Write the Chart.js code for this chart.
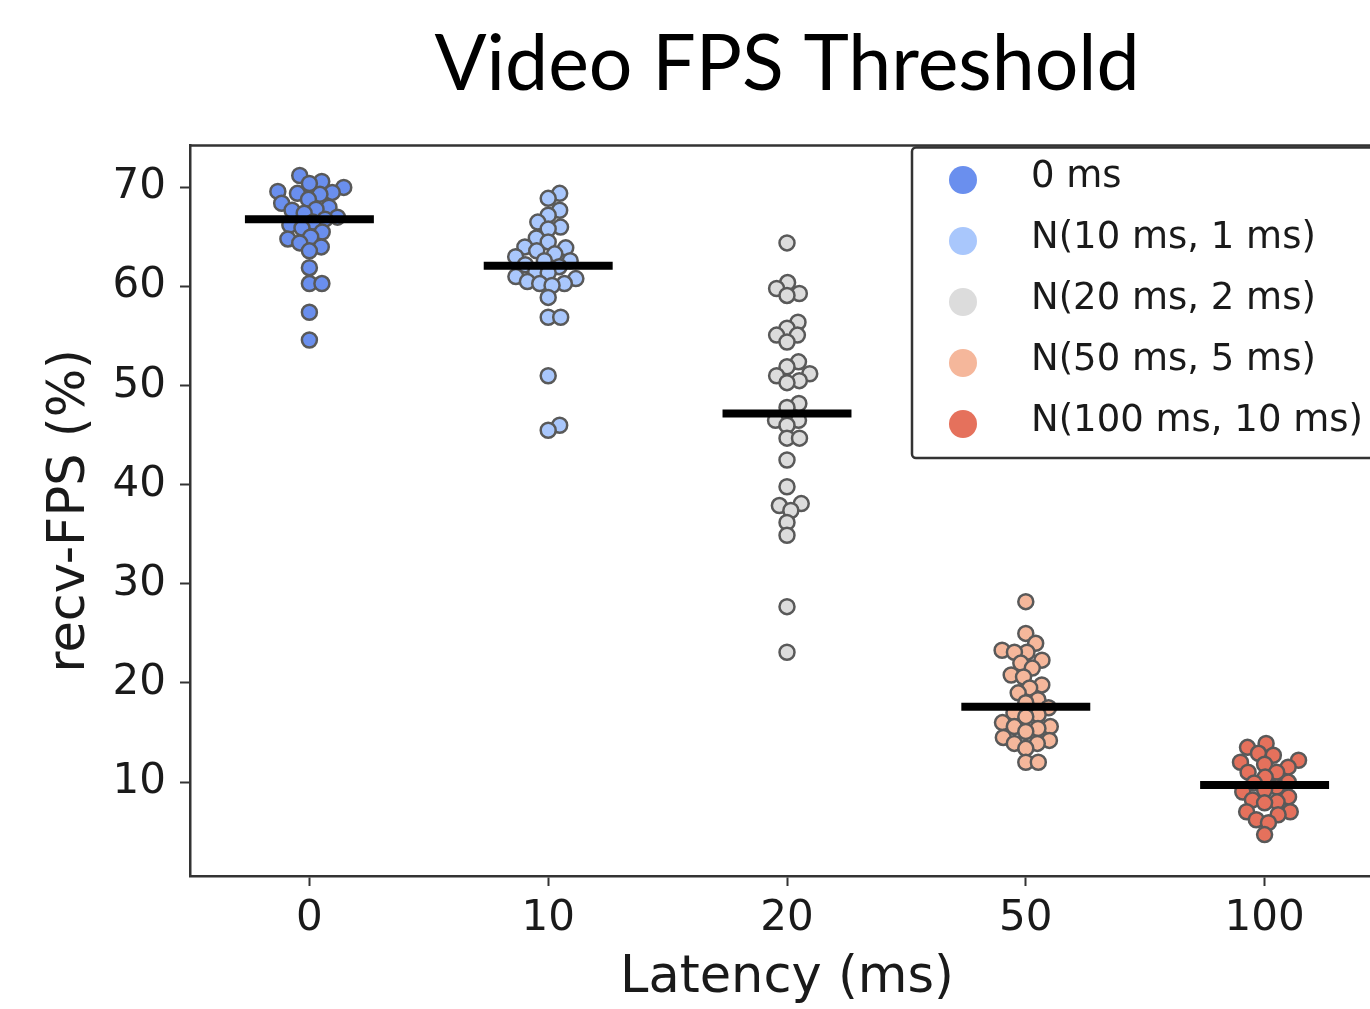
<!DOCTYPE html>
<html lang="en">
<head>
    <meta charset="UTF-8">
    <title>Video FPS Threshold</title>
    <style>
        html, body {
            margin: 0;
            padding: 0;
            background: #fff;
            overflow: hidden;
        }
        #wrap {
            width: 1400px;
            height: 1009px;
        }
    </style>
</head>
<body>
    <div id="wrap"><canvas id="fpsChart" width="1400" height="1009"></canvas></div>

    <script src="https://cdn.jsdelivr.net/npm/chart.js"></script>
    <script>
        // Categories and legend text
        const latencies = ["0", "10", "20", "50", "100"];
        const legendLabels = ["0 ms", "N(10 ms, 1 ms)", "N(20 ms, 2 ms)", "N(50 ms, 5 ms)", "N(100 ms, 10 ms)"];
        const yTicks = [10, 20, 30, 40, 50, 60, 70];

        // recv-FPS (%) per run
        const fps0 = [71.2, 70.6, 70.4, 70.0, 69.6, 69.5, 69.4, 69.3, 68.8, 68.4, 68.0, 67.8, 67.7, 67.4, 67.0,
                      66.8, 66.5, 66.2, 65.9, 65.5, 65.0, 64.8, 64.4, 64.0, 63.6, 61.9, 60.3, 60.3, 57.4, 54.6];
        const fps10 = [69.4, 68.9, 67.7, 67.2, 66.5, 66.0, 65.8, 64.9, 64.5, 64.0, 63.9, 63.6, 63.3, 63.0, 62.6, 62.6,
                       62.2, 62.0, 61.5, 61.4, 61.0, 60.8, 60.5, 60.3, 60.3, 60.1, 58.9, 56.9, 56.9, 51.0, 46.0, 45.5];
        const fps20 = [64.4, 60.4, 59.8, 59.3, 59.1, 56.4, 55.8, 55.1, 55.1, 54.4, 52.4, 51.9, 51.2, 51.0, 50.5, 50.3,
                       48.2, 47.8, 46.5, 46.5, 46.0, 44.7, 44.7, 42.5, 39.8, 38.1, 37.9, 37.4, 36.2, 34.9, 27.7, 23.1];
        const fps50 = [28.2, 25.0, 24.0, 23.3, 23.1, 23.1, 22.3, 22.0, 21.5, 20.8, 20.6, 19.8, 19.5, 19.0, 18.3, 18.0,
                       17.5, 17.0, 16.8, 16.6, 16.0, 15.6, 15.6, 15.4, 15.1, 14.5, 14.2, 13.9, 13.9, 13.4, 12.0, 12.0];
        const fps100 = [13.9, 13.5, 12.9, 12.7, 12.2, 12.0, 11.8, 11.5, 11.0, 11.0, 10.5, 10.0, 9.9, 9.5, 9.2, 9.0,
                        8.5, 8.2, 8.0, 7.9, 7.0, 7.0, 6.7, 6.2, 5.9, 4.7];
        const groupValues = [fps0, fps10, fps20, fps50, fps100];

        // black bars (group average)
        const groupMeans = [66.8, 62.1, 47.2, 17.6, 9.7];

        const colors = ["#6a8fee", "#a9c7fc", "#dcdcdc", "#f5b79b", "#e5715c"];
        const edgeColor = "#595959";
        const axisColor = "#333";
        const textColor = "#1a1a1a";

        const barHalf = 0.27;  // half width of the average bar, in category units

        // Swarm layout (like seaborn): returns x offsets in px for each value
        function swarmOffsets(values, toPx, gap) {
            const order = values.map((v, k) => k).sort((a, b) => values[a] - values[b]);
            const placed = [];
            const offsets = new Array(values.length);
            order.forEach(k => {
                const py = toPx(values[k]);
                const near = placed.filter(p => Math.abs(p.y - py) < gap);
                const cands = [0];
                near.forEach(p => {
                    const dx = Math.sqrt(gap * gap - (p.y - py) * (p.y - py));
                    cands.push(p.x + dx, p.x - dx);
                });
                cands.sort((a, b) => Math.abs(a) - Math.abs(b));
                const x = cands.find(c => near.every(p => Math.hypot(p.x - c, p.y - py) >= gap - 0.01));
                placed.push({ x: x, y: py });
                offsets[k] = x;
            });
            return offsets;
        }

        // Legend box drawn inside the plot (top right), like matplotlib
        const boxLegend = {
            id: "boxLegend",
            afterDraw(chart) {
                const ctx = chart.ctx;
                const area = chart.chartArea;
                const left = 912, top = area.top + 2, bottom = 458, right = area.right + 40;
                ctx.save();
                ctx.fillStyle = "#fff";
                ctx.strokeStyle = axisColor;
                ctx.lineWidth = 2.5;
                ctx.beginPath();
                ctx.roundRect(left, top, right - left, bottom - top, 4);
                ctx.fill();
                ctx.stroke();
                ctx.font = "37px 'DejaVu Sans'";
                ctx.textBaseline = "middle";
                ctx.textAlign = "left";
                legendLabels.forEach((label, i) => {
                    const y = 180 + i * 61;
                    ctx.fillStyle = colors[i];
                    ctx.beginPath();
                    ctx.arc(963, y, 14, 0, Math.PI * 2);
                    ctx.fill();
                    ctx.fillStyle = textColor;
                    ctx.fillText(label, 1031, y - 3);
                });
                ctx.restore();
            }
        };

        // top and right spines
        const frame = {
            id: "frame",
            beforeDatasetsDraw(chart) {
                const ctx = chart.ctx;
                const a = chart.chartArea;
                ctx.save();
                ctx.strokeStyle = axisColor;
                ctx.lineWidth = 2.5;
                ctx.beginPath();
                ctx.moveTo(a.left, a.top);
                ctx.lineTo(a.right, a.top);
                ctx.lineTo(a.right, a.bottom);
                ctx.stroke();
                ctx.restore();
            }
        };

        const datasets = [];
        groupValues.forEach((vals, i) => {
            datasets.push({
                type: "scatter",
                label: legendLabels[i],
                data: vals.map(v => ({ x: i, y: v })),
                backgroundColor: colors[i],
                borderColor: edgeColor,
                borderWidth: 2.5,
                pointRadius: 7.5,
                order: 1
            });
        });
        groupMeans.forEach((m, i) => {
            datasets.push({
                type: "line",
                label: "mean " + latencies[i],
                data: [{ x: i - barHalf, y: m }, { x: i + barHalf, y: m }],
                borderColor: "#000",
                borderWidth: 8,
                borderCapStyle: "butt",
                pointRadius: 0,
                order: 0
            });
        });

        const chart = new Chart(document.getElementById("fpsChart"), {
            type: "scatter",
            data: { datasets: datasets },
            plugins: [frame, boxLegend],
            options: {
                responsive: false,
                animation: false,
                devicePixelRatio: 1,
                layout: { padding: { left: 0, right: 16, top: 0, bottom: 0 } },
                plugins: {
                    legend: { display: false },
                    tooltip: { enabled: false },
                    title: {
                        display: true,
                        text: "Video FPS Threshold",
                        fullSize: false,
                        color: "#000",
                        font: { family: "Lato", size: 77, weight: "normal", lineHeight: 1.2 },
                        padding: { top: 19, bottom: 34 }
                    }
                },
                scales: {
                    x: {
                        type: "linear",
                        min: -0.5,
                        max: 4.5,
                        afterBuildTicks: s => { s.ticks = latencies.map((_, i) => ({ value: i })); },
                        afterFit: s => { s.height = 133; },
                        ticks: {
                            callback: v => latencies[v],
                            color: textColor,
                            font: { family: "DejaVu Sans", size: 42 },
                            padding: 8
                        },
                        grid: { display: true, drawOnChartArea: false, tickLength: 10, tickWidth: 2, color: axisColor },
                        border: { display: true, color: axisColor, width: 2.5 },
                        title: {
                            display: true,
                            text: "Latency (ms)",
                            color: textColor,
                            font: { family: "DejaVu Sans", size: 51 },
                            padding: { top: 0, bottom: 0 }
                        }
                    },
                    y: {
                        min: 0.52,
                        max: 74.24,
                        afterBuildTicks: s => { s.ticks = yTicks.map(v => ({ value: v })); },
                        afterFit: s => { s.width = 190; },
                        ticks: {
                            color: textColor,
                            font: { family: "DejaVu Sans", size: 42 },
                            padding: 14
                        },
                        grid: { display: true, drawOnChartArea: false, tickLength: 10, tickWidth: 2, color: axisColor },
                        border: { display: true, color: axisColor, width: 2.5 },
                        title: {
                            display: true,
                            text: "recv-FPS (%)",
                            color: textColor,
                            font: { family: "DejaVu Sans", size: 51 },
                            padding: { top: 40, bottom: 0 }
                        }
                    }
                }
            }
        });

        // spread the points sideways now that the scales exist
        const xs = chart.scales.x, ys = chart.scales.y;
        const pxPerCat = xs.getPixelForValue(1) - xs.getPixelForValue(0);
        groupValues.forEach((vals, i) => {
            const offs = swarmOffsets(vals, v => ys.getPixelForValue(v), 12.5);
            chart.data.datasets[i].data = vals.map((v, k) => ({ x: i + offs[k] / pxPerCat, y: v }));
        });
        chart.update("none");
    </script>
</body>
</html>
